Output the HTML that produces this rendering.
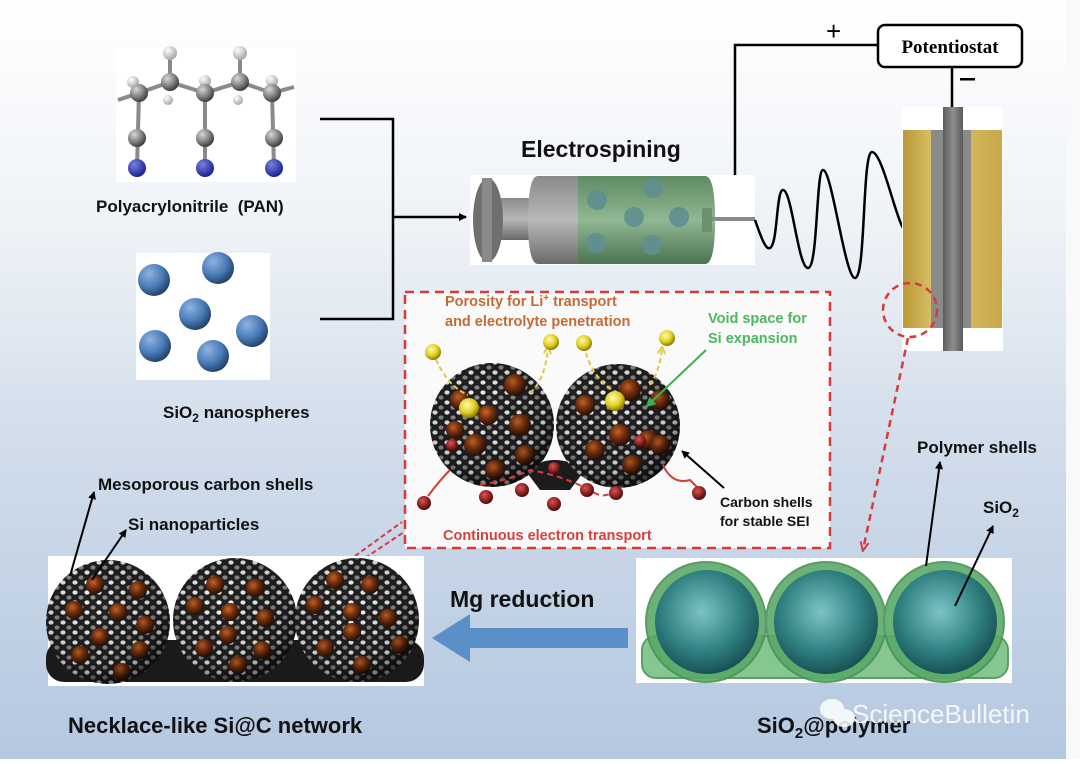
<!DOCTYPE html>
<html><head><meta charset="utf-8"><style>
html,body{margin:0;padding:0;}
body{width:1080px;height:759px;overflow:hidden;font-family:"Liberation Sans",sans-serif;}
svg text{font-family:"Liberation Sans",sans-serif;font-weight:bold;}
</style></head><body>
<svg width="1080" height="759" viewBox="0 0 1080 759" xmlns="http://www.w3.org/2000/svg">
<defs>
<linearGradient id="bg" x1="0" y1="0" x2="0" y2="1">
<stop offset="0" stop-color="#ffffff"/><stop offset="0.3" stop-color="#eef2f7"/><stop offset="0.6" stop-color="#d0dcea"/><stop offset="1" stop-color="#b4c8e0"/></linearGradient>
<radialGradient id="blue" cx="0.35" cy="0.3" r="0.7"><stop offset="0" stop-color="#8fb3e0"/><stop offset="0.6" stop-color="#4a7cb8"/><stop offset="1" stop-color="#25456e"/></radialGradient>
<radialGradient id="gray" cx="0.35" cy="0.3" r="0.7"><stop offset="0" stop-color="#d8d8d8"/><stop offset="0.6" stop-color="#808080"/><stop offset="1" stop-color="#404040"/></radialGradient>
<radialGradient id="white" cx="0.35" cy="0.3" r="0.7"><stop offset="0" stop-color="#ffffff"/><stop offset="1" stop-color="#a8a8a8"/></radialGradient>
<radialGradient id="nblue" cx="0.35" cy="0.3" r="0.7"><stop offset="0" stop-color="#7a80e0"/><stop offset="1" stop-color="#1c2390"/></radialGradient>
<radialGradient id="brown" cx="0.4" cy="0.35" r="0.65"><stop offset="0" stop-color="#d26a28"/><stop offset="0.5" stop-color="#7a3210"/><stop offset="1" stop-color="#2a1206"/></radialGradient>
<radialGradient id="teal" cx="0.45" cy="0.4" r="0.65"><stop offset="0" stop-color="#7cc4c4"/><stop offset="0.6" stop-color="#2f7f80"/><stop offset="1" stop-color="#15474c"/></radialGradient>
<radialGradient id="shade" cx="0.4" cy="0.35" r="0.7"><stop offset="0" stop-color="#000" stop-opacity="0"/><stop offset="0.75" stop-color="#000" stop-opacity="0.2"/><stop offset="1" stop-color="#000" stop-opacity="0.7"/></radialGradient>
<radialGradient id="li" cx="0.4" cy="0.35" r="0.65"><stop offset="0" stop-color="#fffbb0"/><stop offset="0.6" stop-color="#e0d020"/><stop offset="1" stop-color="#8a7a00"/></radialGradient>
<radialGradient id="el" cx="0.4" cy="0.35" r="0.65"><stop offset="0" stop-color="#e05050"/><stop offset="1" stop-color="#500808"/></radialGradient>
<linearGradient id="gold" x1="0" x2="1"><stop offset="0" stop-color="#b89838"/><stop offset="0.35" stop-color="#e0c670"/><stop offset="1" stop-color="#c8a848"/></linearGradient>
<linearGradient id="rod" x1="0" x2="1"><stop offset="0" stop-color="#5c5c5c"/><stop offset="0.5" stop-color="#8e8e8e"/><stop offset="1" stop-color="#5a5a5a"/></linearGradient>
<linearGradient id="grn" x1="0" y1="0" x2="0" y2="1"><stop offset="0" stop-color="#5c8a60"/><stop offset="0.5" stop-color="#8fb792"/><stop offset="1" stop-color="#4a7450"/></linearGradient>
<linearGradient id="gbar" x1="0" y1="0" x2="0" y2="1"><stop offset="0" stop-color="#8a8a8a"/><stop offset="0.5" stop-color="#b8b8b8"/><stop offset="1" stop-color="#6a6a6a"/></linearGradient>
<pattern id="pores" width="12" height="10" patternUnits="userSpaceOnUse">
<rect width="12" height="10" fill="#222"/>
<ellipse cx="3" cy="2.5" rx="2.6" ry="2.1" fill="#f4f4f4"/>
<ellipse cx="9" cy="7.5" rx="2.6" ry="2.1" fill="#909090"/>
</pattern>
<marker id="ah" markerWidth="8" markerHeight="8" refX="7" refY="4" orient="auto" markerUnits="userSpaceOnUse"><path d="M0,0 L8,4 L0,8 z" fill="#000"/></marker>
<marker id="ahr" markerWidth="10" markerHeight="10" refX="8" refY="5" orient="auto" markerUnits="userSpaceOnUse"><path d="M0,1 L9,5 L0,9" fill="none" stroke="#d83a3a" stroke-width="2"/></marker>
<marker id="ahy" markerWidth="8" markerHeight="8" refX="6" refY="4" orient="auto" markerUnits="userSpaceOnUse"><path d="M0,0 L7,4 L0,8" fill="none" stroke="#e0c84a" stroke-width="2"/></marker>
<marker id="ahg" markerWidth="10" markerHeight="10" refX="8" refY="5" orient="auto" markerUnits="userSpaceOnUse"><path d="M0,0 L10,5 L0,10 z" fill="#3cb050"/></marker>
<clipPath id="c1"><circle cx="492" cy="425" r="62"/></clipPath>
<clipPath id="c2"><circle cx="618" cy="426" r="62"/></clipPath>
<clipPath id="b1"><circle cx="108" cy="622" r="62"/></clipPath>
<clipPath id="b2"><circle cx="235" cy="620" r="62"/></clipPath>
<clipPath id="b3"><circle cx="357" cy="620" r="62"/></clipPath>
</defs>
<rect width="1080" height="759" fill="url(#bg)"/>
<rect x="1066" y="0" width="14" height="759" fill="#f8f9fb"/>

<!-- PAN -->
<rect x="116" y="48" width="180" height="134" fill="#fff"/>
<g stroke="#8a8a8a" stroke-width="4">
<polyline points="118,100 139,93 170,82 205,93 240,82 272,93 294,87" fill="none"/>
<line x1="139" y1="93" x2="137" y2="168"/><line x1="205" y1="93" x2="205" y2="168"/><line x1="272" y1="93" x2="274" y2="168"/>
<line x1="170" y1="82" x2="170" y2="54"/><line x1="240" y1="82" x2="240" y2="54"/>
</g>
<g fill="url(#white)">
<circle cx="170" cy="53" r="7"/><circle cx="240" cy="53" r="7"/>
<circle cx="133" cy="82" r="6"/><circle cx="205" cy="81" r="6"/><circle cx="272" cy="81" r="6"/>
<circle cx="168" cy="100" r="5"/><circle cx="238" cy="100" r="5"/>
</g>
<g fill="url(#gray)">
<circle cx="139" cy="93" r="9"/><circle cx="170" cy="82" r="9"/><circle cx="205" cy="93" r="9"/><circle cx="240" cy="82" r="9"/><circle cx="272" cy="93" r="9"/>
<circle cx="137" cy="138" r="9"/><circle cx="205" cy="138" r="9"/><circle cx="274" cy="138" r="9"/>
</g>
<g fill="url(#nblue)"><circle cx="137" cy="168" r="9"/><circle cx="205" cy="168" r="9"/><circle cx="274" cy="168" r="9"/></g>
<text x="96" y="212" font-size="17" fill="#111" xml:space="preserve">Polyacrylonitrile  (PAN)</text>

<!-- SiO2 spheres -->
<rect x="136" y="253" width="134" height="127" fill="#fff"/>
<g fill="url(#blue)">
<circle cx="154" cy="280" r="16"/><circle cx="218" cy="268" r="16"/><circle cx="195" cy="314" r="16"/><circle cx="252" cy="331" r="16"/><circle cx="155" cy="346" r="16"/><circle cx="213" cy="356" r="16"/>
</g>
<text x="163" y="418" font-size="17" fill="#111">SiO<tspan font-size="12" dy="4">2</tspan><tspan dy="-4"> nanospheres</tspan></text>

<!-- connectors -->
<g stroke="#000" stroke-width="2.5" fill="none">
<polyline points="320,119 393,119 393,319 320,319"/>
<line x1="393" y1="217" x2="466" y2="217" marker-end="url(#ah)"/>
<polyline points="735,177 735,45 877,45"/>
<line x1="952" y1="67" x2="952" y2="107"/>
</g>
<text x="826" y="40" font-size="26" fill="#000" style="font-weight:normal">+</text>
<rect x="960" y="78" width="15" height="2.5" fill="#000"/>
<rect x="878" y="25" width="144" height="42" rx="7" fill="#fff" stroke="#000" stroke-width="2.5"/>
<text x="950" y="53" font-size="19" text-anchor="middle" fill="#000" style="font-family:'Liberation Serif',serif">Potentiostat</text>

<!-- Syringe -->
<text x="521" y="157" font-size="23" fill="#111">Electrospining</text>
<rect x="470" y="175" width="285" height="90" fill="#fff"/>
<rect x="490" y="198" width="55" height="42" fill="url(#gbar)"/>
<ellipse cx="488" cy="220" rx="15" ry="42" fill="#6f6f6f"/>
<rect x="482" y="178" width="10" height="84" fill="#8a8a8a"/>
<path d="M538,176 L705,176 Q715,176 715,220 Q715,264 705,264 L538,264 Q528,264 528,220 Q528,176 538,176 z" fill="url(#gbar)"/>
<path d="M578,176 L705,176 Q715,176 715,220 Q715,264 705,264 L578,264 z" fill="url(#grn)" opacity="0.95"/>
<g fill="#5f9090" opacity="0.9">
<circle cx="597" cy="200" r="10"/><circle cx="653" cy="188" r="10"/><circle cx="634" cy="217" r="10"/><circle cx="679" cy="217" r="10"/><circle cx="596" cy="243" r="10"/><circle cx="652" cy="245" r="10"/>
</g>
<rect x="702" y="208" width="10" height="24" fill="#6e8e70"/>
<rect x="712" y="217" width="43" height="4" fill="#8a8a8a"/>
<!-- jet -->
<path d="M755,220 C762,240 766,250 770,248 C778,244 776,190 783,190 C792,190 798,268 808,268 C818,268 816,170 823,170 C832,170 845,278 855,278 C866,278 862,152 872,152 C882,152 895,215 903,228" fill="none" stroke="#000" stroke-width="2.5"/>

<!-- collector -->
<rect x="902" y="107" width="101" height="244" fill="#fff"/>
<rect x="903" y="130" width="99" height="198" fill="url(#gold)"/>
<rect x="931" y="130" width="40" height="198" fill="#8a8a8a"/>
<rect x="943" y="107" width="20" height="244" fill="url(#rod)"/>
<circle cx="910" cy="310" r="27" fill="none" stroke="#d83a3a" stroke-width="2.5" stroke-dasharray="7,5"/>
<line x1="908" y1="338" x2="863" y2="550" stroke="#d83a3a" stroke-width="2.5" stroke-dasharray="7,5" marker-end="url(#ahr)"/>

<!-- inset -->
<rect x="405" y="292" width="425" height="256" fill="#fafafa" stroke="#d83a3a" stroke-width="2.5" stroke-dasharray="9,6"/>
<text x="445" y="306" font-size="14.5" fill="#c56a34">Porosity for Li<tspan font-size="10" dy="-5">+</tspan><tspan dy="5"> transport</tspan></text>
<text x="445" y="326" font-size="14.5" fill="#c56a34">and electrolyte penetration</text>
<text x="708" y="323" font-size="14.5" fill="#4cb860">Void space for</text>
<text x="708" y="343" font-size="14.5" fill="#4cb860">Si expansion</text>
<path d="M525,470 Q555,450 585,470 L570,490 L540,490 z" fill="#1c1c1c"/>
<g clip-path="url(#c1)"><rect x="420" y="355" width="150" height="140" fill="url(#pores)"/>
<g fill="url(#brown)"><circle cx="460" cy="400" r="10"/><circle cx="515" cy="385" r="11"/><circle cx="488" cy="415" r="10"/><circle cx="520" cy="425" r="11"/><circle cx="475" cy="445" r="11"/><circle cx="525" cy="455" r="10"/><circle cx="495" cy="470" r="10"/><circle cx="455" cy="430" r="9"/></g>
<circle cx="492" cy="425" r="62" fill="url(#shade)"/></g>
<g clip-path="url(#c2)"><rect x="550" y="355" width="150" height="140" fill="url(#pores)"/>
<g fill="url(#brown)"><circle cx="585" cy="405" r="10"/><circle cx="630" cy="390" r="11"/><circle cx="660" cy="400" r="10"/><circle cx="620" cy="435" r="11"/><circle cx="648" cy="440" r="10"/><circle cx="660" cy="445" r="10"/><circle cx="595" cy="450" r="10"/><circle cx="632" cy="465" r="10"/></g>
<circle cx="618" cy="426" r="62" fill="url(#shade)"/></g>
<g fill="none" stroke="#e0c84a" stroke-width="2" stroke-dasharray="5,3">
<path d="M433,352 Q445,385 468,395"/><path d="M530,393 Q545,380 548,348" marker-end="url(#ahy)"/>
<path d="M584,345 Q590,375 612,390"/><path d="M650,385 Q660,370 662,348" marker-end="url(#ahy)"/>
</g>
<g fill="url(#li)"><circle cx="433" cy="352" r="8"/><circle cx="551" cy="342" r="8"/><circle cx="584" cy="343" r="8"/><circle cx="667" cy="338" r="8"/><circle cx="469" cy="408" r="10"/><circle cx="615" cy="401" r="10"/></g>
<line x1="706" y1="350" x2="647" y2="406" stroke="#3cb050" stroke-width="2" marker-end="url(#ahg)"/>
<line x1="724" y1="488" x2="682" y2="451" stroke="#000" stroke-width="2" marker-end="url(#ah)"/>
<text x="720" y="507" font-size="14" fill="#111">Carbon shells</text>
<text x="720" y="526" font-size="14" fill="#111">for stable SEI</text>
<g fill="none" stroke="#d83a3a" stroke-width="2">
<path d="M428,496 Q440,480 450,470"/><path d="M663,465 Q672,485 690,480 L700,490"/>
<path d="M480,485 Q510,480 530,470 Q560,475 590,490 Q600,498 610,494" stroke-dasharray="6,4"/>
</g>
<g fill="url(#el)"><circle cx="424" cy="503" r="7"/><circle cx="486" cy="497" r="7"/><circle cx="522" cy="490" r="7"/><circle cx="554" cy="504" r="7"/><circle cx="587" cy="490" r="7"/><circle cx="616" cy="493" r="7"/><circle cx="699" cy="493" r="7"/><circle cx="554" cy="468" r="6"/><circle cx="452" cy="445" r="6"/><circle cx="640" cy="441" r="6"/></g>
<text x="443" y="540" font-size="14.5" fill="#d84040">Continuous electron transport</text>
<g fill="none" stroke="#d83a3a" stroke-width="2" stroke-dasharray="5,3">
<line x1="355" y1="556" x2="402" y2="522"/><line x1="365" y1="558" x2="404" y2="532"/>
</g>

<!-- Left necklace -->
<rect x="48" y="556" width="376" height="130" fill="#fff"/>
<rect x="46" y="640" width="378" height="42" rx="18" fill="#1a1a1a"/>
<g clip-path="url(#b1)"><rect x="44" y="558" width="130" height="130" fill="url(#pores)"/>
<g fill="url(#brown)"><circle cx="95" cy="585" r="9"/><circle cx="138" cy="590" r="9"/><circle cx="74" cy="610" r="9"/><circle cx="118" cy="612" r="9"/><circle cx="145" cy="625" r="9"/><circle cx="100" cy="637" r="9"/><circle cx="140" cy="650" r="9"/><circle cx="80" cy="655" r="9"/><circle cx="122" cy="672" r="9"/></g>
<circle cx="108" cy="622" r="62" fill="url(#shade)"/></g>
<g clip-path="url(#b2)"><rect x="171" y="556" width="130" height="130" fill="url(#pores)"/>
<g fill="url(#brown)"><circle cx="215" cy="585" r="9"/><circle cx="255" cy="588" r="9"/><circle cx="195" cy="606" r="9"/><circle cx="230" cy="612" r="9"/><circle cx="265" cy="618" r="9"/><circle cx="228" cy="635" r="9"/><circle cx="204" cy="648" r="9"/><circle cx="262" cy="650" r="9"/><circle cx="238" cy="665" r="9"/></g>
<circle cx="235" cy="620" r="62" fill="url(#shade)"/></g>
<g clip-path="url(#b3)"><rect x="293" y="556" width="130" height="130" fill="url(#pores)"/>
<g fill="url(#brown)"><circle cx="335" cy="580" r="9"/><circle cx="370" cy="585" r="9"/><circle cx="315" cy="605" r="9"/><circle cx="352" cy="612" r="9"/><circle cx="388" cy="618" r="9"/><circle cx="352" cy="632" r="9"/><circle cx="325" cy="648" r="9"/><circle cx="400" cy="645" r="9"/><circle cx="362" cy="665" r="9"/></g>
<circle cx="357" cy="620" r="62" fill="url(#shade)"/></g>
<g stroke="#000" stroke-width="2">
<line x1="70" y1="576" x2="94" y2="492" marker-end="url(#ah)"/>
<line x1="92" y1="580" x2="126" y2="530" marker-end="url(#ah)"/>
</g>
<text x="98" y="490" font-size="17" fill="#111">Mesoporous carbon shells</text>
<text x="128" y="530" font-size="17" fill="#111">Si nanoparticles</text>

<!-- Mg reduction -->
<text x="450" y="607" font-size="23" fill="#111">Mg reduction</text>
<path d="M628,628 L470,628 L470,614 L432,638 L470,662 L470,648 L628,648 z" fill="#5b8fc8"/>

<!-- Right polymer -->
<rect x="636" y="558" width="376" height="125" fill="#fff"/>
<rect x="642" y="636" width="366" height="42" rx="14" fill="#86c690" stroke="#5aa066" stroke-width="2"/>
<g fill="#5aaa68" stroke="#4a9058" stroke-width="2" opacity="0.9">
<circle cx="706" cy="622" r="60"/><circle cx="826" cy="622" r="60"/><circle cx="944" cy="622" r="60"/></g>
<g fill="url(#teal)"><circle cx="707" cy="622" r="52"/><circle cx="826" cy="622" r="52"/><circle cx="945" cy="622" r="52"/></g>
<g stroke="#000" stroke-width="2">
<line x1="926" y1="566" x2="940" y2="462" marker-end="url(#ah)"/>
<line x1="955" y1="606" x2="993" y2="526" marker-end="url(#ah)"/>
</g>
<text x="917" y="453" font-size="17" fill="#111">Polymer shells</text>
<text x="983" y="513" font-size="17" fill="#111">SiO<tspan font-size="12" dy="4">2</tspan></text>

<!-- bottom labels -->
<text x="68" y="733" font-size="22" fill="#111">Necklace-like Si@C network</text>
<text x="757" y="733" font-size="22" fill="#111">SiO<tspan font-size="15" dy="5">2</tspan><tspan dy="-5">@polymer</tspan></text>
<g fill="#fff" opacity="0.85"><ellipse cx="832" cy="709" rx="12" ry="10"/><ellipse cx="844" cy="718" rx="11" ry="9"/></g>
<text x="852" y="723" font-size="26" fill="#fff" opacity="0.85" style="font-weight:normal">ScienceBulletin</text>
</svg>
</body></html>
